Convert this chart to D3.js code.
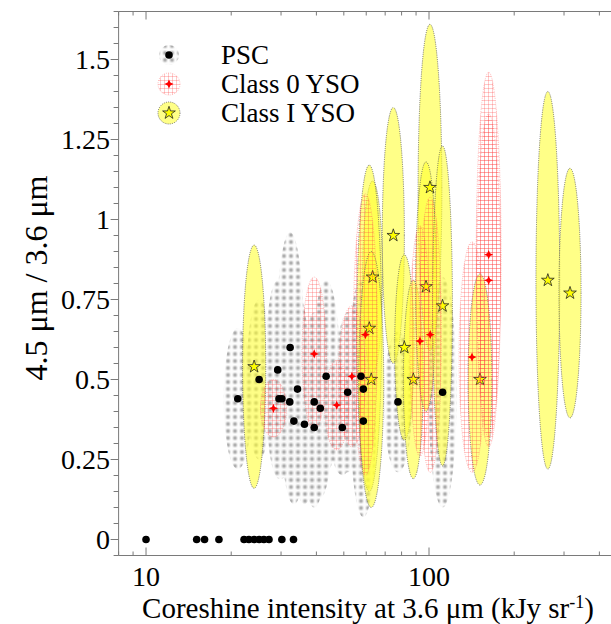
<!DOCTYPE html>
<html>
<head>
<meta charset="utf-8">
<script src="https://cdn.jsdelivr.net/npm/d3@7"></script>
<style>
  html, body { margin: 0; padding: 0; background: #fff; }
  svg { display: block; }
  text { font-family: "Liberation Serif", "Times New Roman", serif; fill: #000; }
</style>
</head>
<body>
<svg id="chart" width="611" height="624"></svg>
<script>
// ---------------- DATA ----------------
// PSC (detected)
const pscX    = [21.1, 25.1, 29.2, 29.5, 30.2, 32.2, 32.3, 33.3, 34.3, 36.3, 39.3, 39.3, 41.3, 43.3, 49.4, 51.6, 57.5, 58.6, 58.6, 77.7, 111.7];
const pscY    = [0.44, 0.50, 0.53, 0.44, 0.44, 0.43, 0.60, 0.37, 0.47, 0.36, 0.35, 0.43, 0.41, 0.51, 0.35, 0.46, 0.51, 0.47, 0.37, 0.43, 0.46];
const pscYErr = [0.22, 0.25, 0.28, 0.25, 0.25, 0.25, 0.36, 0.26, 0.30, 0.25, 0.25, 0.28, 0.28, 0.30, 0.15, 0.25, 0.30, 0.30, 0.30, 0.22, 0.36];
const pscXErrDex = [0.050, 0.045, 0.045, 0.045, 0.045, 0.045, 0.050, 0.045, 0.045, 0.045, 0.045, 0.045, 0.045, 0.050, 0.045, 0.045, 0.045, 0.045, 0.045, 0.050, 0.050];
// PSC with zero colour ratio
const pscZeroX = [10, 15.1, 16.1, 18.1, 22.2, 23.1, 24.1, 25.1, 26.1, 27.2, 30.2, 33.2];
const pscZeroY = [0, 0, 0, 0, 0, 0, 0, 0, 0, 0, 0, 0];

// Class 0 YSO
const c0X    = [39.3, 28.2, 47.2, 53.4, 59.6, 92.9, 101, 162.5, 162.5, 141.9];
const c0Y    = [0.58, 0.41, 0.42, 0.51, 0.64, 0.62, 0.64, 0.89, 0.81, 0.57];
const c0YErr = [0.24, 0.09, 0.14, 0.22, 0.44, 0.36, 0.43, 0.57, 0.52, 0.36];
const c0XErrDex = [0.043, 0.046, 0.043, 0.048, 0.043, 0.036, 0.040, 0.044, 0.042, 0.046];

// Class I YSO
const c1X    = [24.1, 74.8, 63.2, 61.5, 62.5, 81.8, 88.0, 100.8, 97.6, 111.6, 151.4, 263, 315];
const c1Y    = [0.54, 0.95, 0.82, 0.66, 0.50, 0.60, 0.50, 1.10, 0.79, 0.73, 0.50, 0.81, 0.77];
const c1YErr = [0.38, 0.40, 0.30, 0.51, 0.40, 0.29, 0.31, 0.51, 0.39, 0.50, 0.33, 0.59, 0.39];
const c1XErrDex = [0.041, 0.039, 0.035, 0.044, 0.044, 0.034, 0.035, 0.042, 0.037, 0.035, 0.042, 0.042, 0.039];

// Axes
const xDomain = [8, 500];
const yDomain = [-0.05, 1.65];
const xMajorTicks = [10, 100];
const xMajorLabels = ["10", "100"];
const yMajorTicks = [0, 0.25, 0.5, 0.75, 1, 1.25, 1.5];
const yMajorLabels = ["0", "0.25", "0.5", "0.75", "1", "1.25", "1.5"];
const legendLabels = ["PSC", "Class 0 YSO", "Class I YSO"];
const xTitle = "Coreshine intensity at 3.6 \u03bcm (kJy sr";
const xTitleSup = "-1";
const yTitle = "4.5 \u03bcm / 3.6 \u03bcm";

// ---------------- LAYOUT ----------------
const svg = d3.select("#chart");
const pLeft = 118.6, pRight = 626.8, pTop = 11.5, pBottom = 555.5;
const x = d3.scaleLog().domain(xDomain).range([pLeft, pRight]);
const y = d3.scaleLinear().domain(yDomain).range([pBottom, pTop]);
const axisColor = "#7a7a7a";

// ---------------- PATTERNS ----------------
const defs = svg.append("defs");
const rg = defs.append("radialGradient").attr("id", "gdot");
rg.append("stop").attr("offset", "0%").attr("stop-color", "#9a9a9a");
rg.append("stop").attr("offset", "40%").attr("stop-color", "#b4b4b4");
rg.append("stop").attr("offset", "75%").attr("stop-color", "#e2e2e2");
rg.append("stop").attr("offset", "100%").attr("stop-color", "#f8f8f8");
const pg = defs.append("pattern").attr("id", "pscPat").attr("patternUnits", "userSpaceOnUse")
  .attr("width", 7).attr("height", 7).attr("x", 0.5).attr("y", 0.5);
pg.append("rect").attr("x", 0.5).attr("y", 0.5).attr("width", 6).attr("height", 6).attr("fill", "url(#gdot)");

const rp = defs.append("pattern").attr("id", "c0Pat").attr("patternUnits", "userSpaceOnUse")
  .attr("width", 4).attr("height", 4);
rp.append("path").attr("d", "M0,0.5H4M0.5,0V4").attr("stroke", "rgba(255,60,60,0.27)").attr("stroke-width", 1).attr("fill", "none");

const clip = defs.append("clipPath").attr("id", "plotClip");
clip.append("rect").attr("x", pLeft).attr("y", pTop).attr("width", 611 - pLeft).attr("height", pBottom - pTop);

const plot = svg.append("g").attr("clip-path", "url(#plotClip)");

function rxOf(v, d) { return x(v * Math.pow(10, d)) - x(v); }

const psc = pscX.map((v, i) => ({ x: v, y: pscY[i], ey: pscYErr[i], ex: pscXErrDex[i] }));
const c1 = c1X.map((v, i) => ({ x: v, y: c1Y[i], ey: c1YErr[i], ex: c1XErrDex[i] }));
const c0 = c0X.map((v, i) => ({ x: v, y: c0Y[i], ey: c0YErr[i], ex: c0XErrDex[i] }));

// ---------------- PSC ellipses ----------------
plot.append("g").selectAll("ellipse").data(psc).join("ellipse")
  .attr("cx", d => x(d.x)).attr("cy", d => y(d.y))
  .attr("rx", d => rxOf(d.x, d.ex)).attr("ry", d => y(0) - y(d.ey))
  .attr("fill", "url(#pscPat)");

// ---------------- Class I ----------------
plot.append("g").selectAll("ellipse").data(c1).join("ellipse")
  .attr("cx", d => x(d.x)).attr("cy", d => y(d.y))
  .attr("rx", d => rxOf(d.x, d.ex)).attr("ry", d => y(0) - y(d.ey))
  .attr("fill", "#ffff30").attr("fill-opacity", 0.58)
  .attr("stroke", "#555").attr("stroke-width", 0.8).attr("stroke-dasharray", "1,1.2");
const starPath = d3.symbol().type(d3.symbolStar).size(50)();
plot.append("g").selectAll("path").data(c1).join("path")
  .attr("transform", d => `translate(${x(d.x)},${y(d.y)})`)
  .attr("d", starPath).attr("fill", "#ffff00").attr("stroke", "#222").attr("stroke-width", 0.8);

// ---------------- Class 0 ----------------
plot.append("g").selectAll("ellipse").data(c0).join("ellipse")
  .attr("cx", d => x(d.x)).attr("cy", d => y(d.y))
  .attr("rx", d => rxOf(d.x, d.ex)).attr("ry", d => y(0) - y(d.ey))
  .attr("fill", "url(#c0Pat)")
  .attr("stroke", "rgba(255,110,110,0.55)").attr("stroke-width", 0.8).attr("stroke-dasharray", "1,1.2");
const r4 = 4.6, w4 = 1.4;
const star4 = `M0,${-r4}L${w4},${-w4}L${r4},0L${w4},${w4}L0,${r4}L${-w4},${w4}L${-r4},0L${-w4},${-w4}Z`;
plot.append("g").selectAll("path").data(c0).join("path")
  .attr("transform", d => `translate(${x(d.x)},${y(d.y)})`)
  .attr("d", star4).attr("fill", "#ff0000");

// ---------------- PSC points (on top) ----------------
plot.append("g").selectAll("circle").data(psc).join("circle")
  .attr("cx", d => x(d.x)).attr("cy", d => y(d.y)).attr("r", 3.8).attr("fill", "#000");
plot.append("g").selectAll("circle").data(pscZeroX.map((v, i) => ({ x: v, y: pscZeroY[i] }))).join("circle")
  .attr("cx", d => x(d.x)).attr("cy", d => y(d.y)).attr("r", 3.8).attr("fill", "#000");

// ---------------- AXES ----------------
const ax = svg.append("g");
ax.append("line").attr("x1", pLeft).attr("x2", 611).attr("y1", pBottom).attr("y2", pBottom).attr("stroke", axisColor);
ax.append("line").attr("x1", pLeft).attr("x2", 611).attr("y1", pTop).attr("y2", pTop).attr("stroke", axisColor);
ax.append("line").attr("x1", pLeft).attr("x2", pLeft).attr("y1", pTop).attr("y2", pBottom).attr("stroke", axisColor);

const xMinor = [];
for (let dec = 1; dec <= 100; dec *= 10) for (let k = 1; k <= 9; k++) {
  const v = k * dec; if (v >= xDomain[0] && v <= xDomain[1] && k !== 1) xMinor.push(v);
}
xMinor.forEach(v => {
  ax.append("line").attr("x1", x(v)).attr("x2", x(v)).attr("y1", pBottom).attr("y2", pBottom - 4).attr("stroke", axisColor);
  ax.append("line").attr("x1", x(v)).attr("x2", x(v)).attr("y1", pTop).attr("y2", pTop + 4).attr("stroke", axisColor);
});
xMajorTicks.forEach((v, i) => {
  ax.append("line").attr("x1", x(v)).attr("x2", x(v)).attr("y1", pBottom).attr("y2", pBottom - 8).attr("stroke", axisColor);
  ax.append("line").attr("x1", x(v)).attr("x2", x(v)).attr("y1", pTop).attr("y2", pTop + 8).attr("stroke", axisColor);
  ax.append("text").attr("x", x(v)).attr("y", 586).attr("text-anchor", "middle")
    .attr("font-size", 28).text(xMajorLabels[i]);
});
const yMinor = d3.range(-0.05, 1.651, 0.05).filter(v => Math.abs(v / 0.25 - Math.round(v / 0.25)) > 1e-6);
yMinor.forEach(v => {
  ax.append("line").attr("x1", pLeft).attr("x2", pLeft - 5).attr("y1", y(v)).attr("y2", y(v)).attr("stroke", axisColor);
});
yMajorTicks.forEach((v, i) => {
  ax.append("line").attr("x1", pLeft).attr("x2", pLeft - 8).attr("y1", y(v)).attr("y2", y(v)).attr("stroke", axisColor);
  ax.append("text").attr("x", 110).attr("y", y(v) + 9).attr("text-anchor", "end")
    .attr("font-size", 28).text(yMajorLabels[i]);
});

// titles
const xt = svg.append("text").attr("x", 368).attr("y", 618).attr("text-anchor", "middle").attr("font-size", 29);
xt.append("tspan").text(xTitle);
xt.append("tspan").attr("font-size", 18).attr("dy", -10).text(xTitleSup);
xt.append("tspan").attr("dy", 10).text(")");
svg.append("text").attr("transform", "translate(47,278) rotate(-90)").attr("text-anchor", "middle")
  .attr("font-size", 32).text(yTitle);

// ---------------- LEGEND ----------------
const lg = svg.append("g");
const lx = 169, ly = [55, 84, 113];
lg.append("circle").attr("cx", lx).attr("cy", ly[0]).attr("r", 10).attr("fill", "url(#pscPat)");
lg.append("circle").attr("cx", lx).attr("cy", ly[0]).attr("r", 3.8).attr("fill", "#000");
lg.append("circle").attr("cx", lx).attr("cy", ly[1]).attr("r", 11).attr("fill", "url(#c0Pat)")
  .attr("stroke", "rgba(255,110,110,0.55)").attr("stroke-width", 0.8).attr("stroke-dasharray", "1,1.2");
lg.append("path").attr("transform", `translate(${lx},${ly[1]})`).attr("d", star4).attr("fill", "#ff0000");
lg.append("circle").attr("cx", lx).attr("cy", ly[2]).attr("r", 11).attr("fill", "#ffff30").attr("fill-opacity", 0.58)
  .attr("stroke", "#555").attr("stroke-width", 0.8).attr("stroke-dasharray", "1,1.2");
lg.append("path").attr("transform", `translate(${lx},${ly[2]})`).attr("d", starPath)
  .attr("fill", "#ffff00").attr("stroke", "#222").attr("stroke-width", 0.8);
legendLabels.forEach((t, i) => {
  lg.append("text").attr("x", 221).attr("y", ly[i] + 9).attr("font-size", 27).text(t);
});
</script>
</body>
</html>
